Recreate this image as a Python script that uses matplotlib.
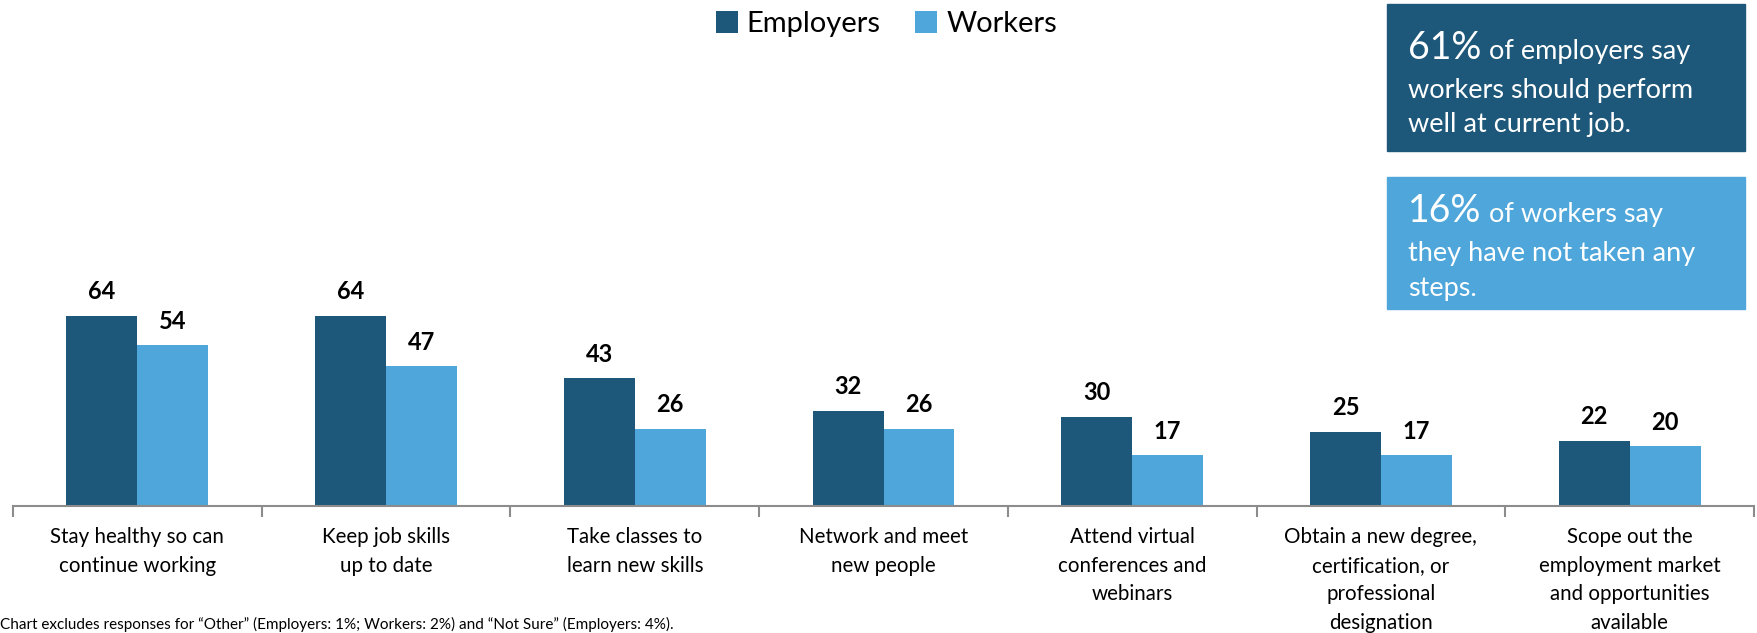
import matplotlib.pyplot as plt
import numpy as np

categories = [
    "Stay healthy so can\ncontinue working",
    "Keep job skills\nup to date",
    "Take classes to\nlearn new skills",
    "Network and meet\nnew people",
    "Attend virtual\nconferences and\nwebinars",
    "Obtain a new degree,\ncertification, or\nprofessional\ndesignation",
    "Scope out the\nemployment market\nand opportunities\navailable",
]
employers = [64, 64, 43, 32, 30, 25, 22]
workers = [54, 47, 26, 26, 17, 17, 20]
series_names = ["Employers", "Workers"]

DARK = "#1D5779"
LIGHT = "#4EA6DA"
FONT = "Lato"

W, H = 1757, 633
fig = plt.figure(figsize=(W / 100, H / 100), dpi=100)
plt.rcParams['font.family'] = [FONT, 'DejaVu Sans']

# axes placed in pixel terms: axis line at y=506 from top
ax_bottom = 1 - 506 / H
ax_top = 1 - 20 / H
ax = fig.add_axes([13 / W, ax_bottom, (1754 - 13) / W, ax_top - ax_bottom])
px_per_unit = 2.976
ax.set_ylim(0, (506 - 20) / px_per_unit)
ax.set_xlim(-0.5, len(categories) - 0.5)

x = np.arange(len(categories))
bw = 0.285
b1 = ax.bar(x - bw / 2, employers, bw, color=DARK, label=series_names[0])
b2 = ax.bar(x + bw / 2, workers, bw, color=LIGHT, label=series_names[1])

for bars, vals in ((b1, employers), (b2, workers)):
    for rect, v in zip(bars, vals):
        ax.annotate(str(v), (rect.get_x() + rect.get_width() / 2, v),
                    xytext=(0, 9), textcoords="offset points",
                    ha="center", va="bottom", fontsize=17, fontweight="bold")

for s in ("top", "right", "left"):
    ax.spines[s].set_visible(False)
ax.spines["bottom"].set_color("#8c8c8c")
ax.spines["bottom"].set_linewidth(1.5)
ax.set_yticks([])
ax.set_xticks(x)
ax.set_xticklabels(categories, fontsize=14.8, linespacing=1.55, va="top")
ax.tick_params(axis="x", which="major", length=0, pad=15)
ax.set_xticks(np.arange(-0.5, len(categories)), minor=True)
ax.tick_params(axis="x", which="minor", length=8, width=1.5, color="#8c8c8c")

fig.legend(handles=[b1, b2], loc="center", bbox_to_anchor=(791 / 1568, 1 - 24 / H),
           ncol=2, frameon=False, fontsize=21, handlelength=0.75, handleheight=0.75,
           handletextpad=0.3, columnspacing=1.2)

# callout boxes
def callout(y0, y1, color):
    box = plt.Rectangle((1387 / W, 1 - y1 / H), (1745 - 1387) / W, (y1 - y0) / H,
                        transform=fig.transFigure, color=color, zorder=0)
    fig.patches.append(box)

callout(4, 151, DARK)
callout(177, 309, LIGHT)

tx = 1408 / W
t1 = fig.text(tx, 1 - 59 / H, "61%", color="white", fontsize=27, va="baseline")
t2 = fig.text(tx, 1 - 222 / H, "16%", color="white", fontsize=27, va="baseline")
fig.canvas.draw()
r = fig.canvas.get_renderer()
e1 = t1.get_window_extent(r)
e2 = t2.get_window_extent(r)
fs = 19.5
fig.text((e1.x1 + 8) / W, 1 - 59 / H, "of employers say", color="white", fontsize=fs, va="baseline")
fig.text(tx, 1 - 98 / H, "workers should perform", color="white", fontsize=fs, va="baseline")
fig.text(tx, 1 - 132 / H, "well at current job.", color="white", fontsize=fs, va="baseline")
fig.text((e2.x1 + 8) / W, 1 - 222 / H, "of workers say", color="white", fontsize=fs, va="baseline")
fig.text(tx, 1 - 261 / H, "they have not taken any", color="white", fontsize=fs, va="baseline")
fig.text(tx, 1 - 296 / H, "steps.", color="white", fontsize=fs, va="baseline")

fig.text(0.0, 1 / H,
         "Chart excludes responses for \u201cOther\u201d (Employers: 1%; Workers: 2%) and \u201cNot Sure\u201d (Employers: 4%).",
         fontsize=11, va="bottom", ha="left")

fig.savefig("out.png", dpi=100)
